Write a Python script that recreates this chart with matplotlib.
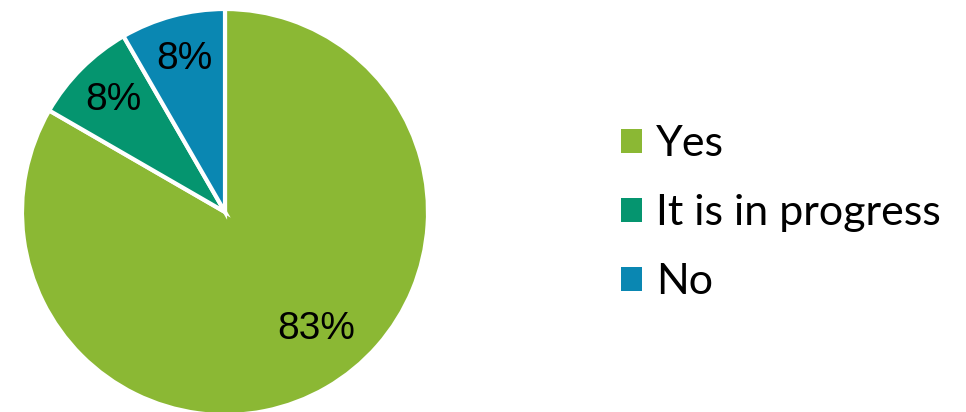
import matplotlib
matplotlib.use("Agg")
import matplotlib.pyplot as plt
import numpy as np

categories = ["Yes", "It is in progress", "No"]
values = [10, 1, 1]
colors = ["#8BB834", "#05956F", "#0A87B2"]

W, H = 966, 412
fig = plt.figure(figsize=(W / 100, H / 100), dpi=100)
cx, cy, r = 225, 200, 203
ax = fig.add_axes([(cx - r) / W, (cy - r) / H, 2 * r / W, 2 * r / H])
wedges, texts, autotexts = ax.pie(
    values, colors=colors, startangle=90, counterclock=False,
    autopct=lambda p: f"{p:.0f}%", pctdistance=0.78,
    wedgeprops=dict(edgecolor="white", linewidth=3),
    textprops=dict(fontsize=28, family=["Liberation Sans", "DejaVu Sans"], color="black"),
    radius=1,
)
ax.set_xlim(-1, 1)
ax.set_ylim(-1, 1)
ax.set_aspect("equal")
ax.axis("off")
# move the large label slightly toward the center
ang = np.deg2rad(-52)
autotexts[0].set_position((0.73 * np.cos(ang), 0.73 * np.sin(ang)))

leg = fig.legend(
    wedges, categories, loc="center left", bbox_to_anchor=(621 / W, 199 / H),
    frameon=False, borderpad=0, borderaxespad=0,
    handlelength=0.48, handleheight=0.48, handletextpad=0.33,
    labelspacing=0.72,
    prop=dict(family=["Lato", "DejaVu Sans"], size=31),
)
for h in leg.legend_handles:
    h.set_edgecolor("none")

fig.savefig("out.png", dpi=100)
